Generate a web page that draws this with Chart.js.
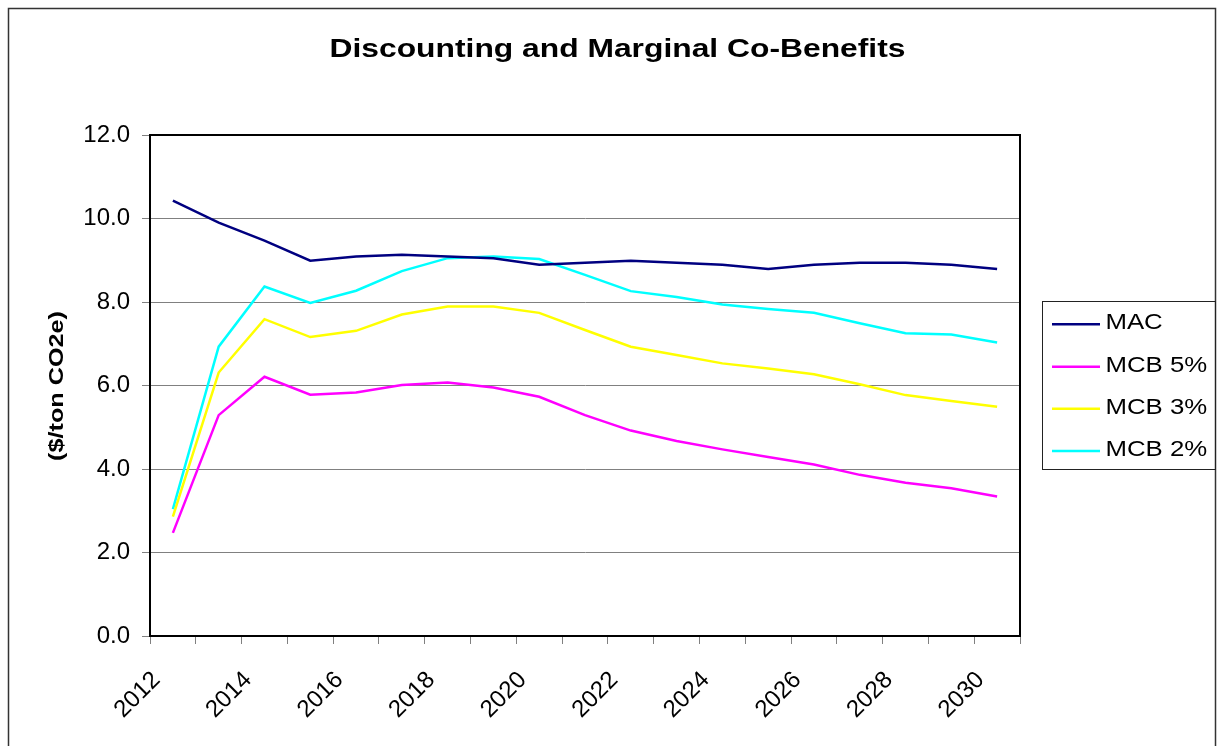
<!DOCTYPE html>
<html>
<head>
<meta charset="utf-8">
<title>Discounting and Marginal Co-Benefits</title>
<script src="https://cdn.jsdelivr.net/npm/chart.js@4.4.1/dist/chart.umd.min.js"></script>
<style>
  html, body { margin: 0; padding: 0; background: #ffffff; }
  #wrap { width: 1217px; height: 746px; }
</style>
</head>
<body>
<div id="wrap"><canvas id="chart" width="1217" height="746"></canvas></div>
<script>
// ---- data ($/ton CO2e) ----
const years = ['2012', '2013', '2014', '2015', '2016', '2017', '2018', '2019', '2020', '2021',
               '2022', '2023', '2024', '2025', '2026', '2027', '2028', '2029', '2030'];
const mac  = [10.43, 9.90, 9.47, 8.99, 9.09, 9.13, 9.09, 9.05, 8.89, 8.94,
              8.99, 8.94, 8.89, 8.79, 8.89, 8.94, 8.94, 8.89, 8.79];
const mcb5 = [2.47, 5.29, 6.21, 5.78, 5.83, 6.01, 6.07, 5.95, 5.73, 5.29,
              4.92, 4.67, 4.47, 4.29, 4.11, 3.86, 3.67, 3.54, 3.34];
const mcb3 = [2.86, 6.31, 7.59, 7.16, 7.31, 7.70, 7.89, 7.89, 7.74, 7.33,
              6.93, 6.73, 6.53, 6.41, 6.27, 6.03, 5.77, 5.63, 5.49];
const mcb2 = [3.04, 6.93, 8.37, 7.98, 8.27, 8.74, 9.05, 9.09, 9.03, 8.65,
              8.26, 8.12, 7.94, 7.83, 7.74, 7.49, 7.25, 7.22, 7.03];
const seriesNames = ['MAC', 'MCB 5%', 'MCB 3%', 'MCB 2%'];
const seriesColors = ['#000080', '#FF00FF', '#FFFF00', '#00FFFF'];
const chartTitle = 'Discounting and Marginal Co-Benefits';
const yAxisTitle = '($/ton CO2e)';

const FONT = "'Liberation Sans', Arial, Helvetica, sans-serif";
const STRETCH = 1.2;   // wide rendering of title, axis title and legend text

// draws text widened horizontally (in the text's own direction)
function wideText(ctx, text, x, y, align, font, angle) {
  ctx.save();
  ctx.translate(x, y);
  if (angle) ctx.rotate(angle);
  ctx.scale(STRETCH, 1);
  ctx.font = font;
  ctx.fillStyle = '#000000';
  ctx.textAlign = align;
  ctx.textBaseline = 'alphabetic';
  ctx.fillText(text, 0, 0);
  ctx.restore();
}

// white page with a thin outer frame
const pagePlugin = {
  id: 'page',
  beforeDraw(chart) {
    const ctx = chart.ctx;
    ctx.save();
    ctx.fillStyle = '#ffffff';
    ctx.fillRect(0, 0, chart.width, chart.height);
    ctx.strokeStyle = '#333333';
    ctx.lineWidth = 1.5;
    ctx.strokeRect(8.5, 8.5, chart.width - 10, chart.height + 20);
    ctx.restore();
  }
};

// top and right edges of the plot frame (left/bottom come from the axes)
const plotFramePlugin = {
  id: 'plotFrame',
  afterDatasetsDraw(chart) {
    const {ctx, chartArea: a} = chart;
    ctx.save();
    ctx.strokeStyle = '#000000';
    ctx.lineWidth = 2;
    ctx.beginPath();
    ctx.moveTo(a.left, a.top);
    ctx.lineTo(a.right, a.top);
    ctx.lineTo(a.right, a.bottom);
    ctx.stroke();
    ctx.restore();
  }
};

// title, vertical axis title and the boxed legend
const textPlugin = {
  id: 'texts',
  afterDraw(chart) {
    const ctx = chart.ctx;
    wideText(ctx, chartTitle, 617.5, 56.7, 'center', 'bold 26.5px ' + FONT);
    wideText(ctx, yAxisTitle, 62.5, 386, 'center', 'bold 21px ' + FONT, -Math.PI / 2);

    // legend box
    ctx.save();
    ctx.strokeStyle = '#222222';
    ctx.lineWidth = 1;
    ctx.strokeRect(1042.5, 301.5, 173, 168);
    const rowY = [324.3, 366.7, 408.7, 451];
    chart.data.datasets.forEach((ds, i) => {
      ctx.strokeStyle = ds.borderColor;
      ctx.lineWidth = 2.5;
      ctx.beginPath();
      ctx.moveTo(1052, rowY[i]);
      ctx.lineTo(1100, rowY[i]);
      ctx.stroke();
      wideText(ctx, ds.label, 1105.4, rowY[i] + 5, 'left', '21.5px ' + FONT);
    });
    ctx.restore();
  }
};

const seriesData = [mac, mcb5, mcb3, mcb2];

new Chart(document.getElementById('chart'), {
  type: 'line',
  data: {
    labels: years,
    datasets: seriesData.map((vals, i) => ({
      label: seriesNames[i],
      data: vals,
      borderColor: seriesColors[i],
      backgroundColor: seriesColors[i],
      borderWidth: 2.5,
      pointRadius: 0,
      pointHoverRadius: 0,
      tension: 0,
      fill: false
    }))
  },
  options: {
    responsive: false,
    animation: false,
    devicePixelRatio: 1,
    layout: { padding: { left: 0, top: 135, right: 197, bottom: 0 } },
    plugins: {
      legend: { display: false },
      title: { display: false },
      tooltip: { enabled: false }
    },
    scales: {
      x: {
        type: 'category',
        offset: true,
        afterFit(scale) { scale.height = 110; },
        grid: {
          offset: true,
          drawOnChartArea: false,
          drawTicks: true,
          tickLength: 8,
          tickColor: '#808080',
          tickWidth: 1
        },
        border: { display: true, color: '#000000', width: 2 },
        ticks: {
          autoSkip: false,
          minRotation: 45,
          maxRotation: 45,
          padding: 22,
          labelOffset: -16.5,
          color: '#000000',
          font: { family: FONT, size: 24 },
          callback: (value, index) => (index % 2 === 0 ? years[index] : '')
        }
      },
      y: {
        min: 0,
        max: 12,
        afterFit(scale) { scale.width = 150; },
        grid: {
          color: '#808080',
          lineWidth: 1,
          drawTicks: true,
          tickLength: 8,
          tickColor: '#808080',
          tickWidth: 1
        },
        border: { display: true, color: '#000000', width: 2 },
        ticks: {
          stepSize: 2,
          padding: 12,
          color: '#000000',
          font: { family: FONT, size: 24 },
          callback: (value) => Number(value).toFixed(1)
        }
      }
    }
  },
  plugins: [pagePlugin, plotFramePlugin, textPlugin]
});
</script>
</body>
</html>
